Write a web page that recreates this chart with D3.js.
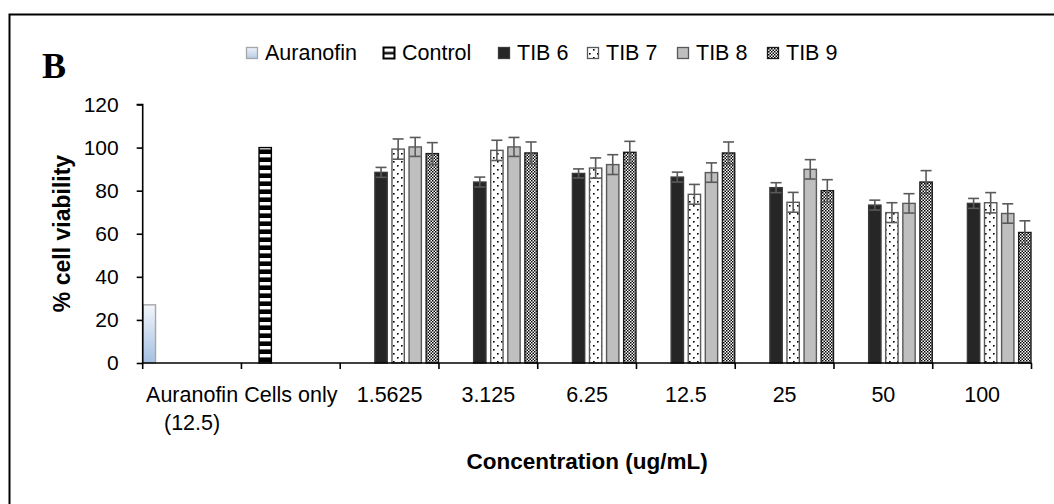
<!DOCTYPE html>
<html>
<head>
<meta charset="utf-8">
<script src="https://cdn.jsdelivr.net/npm/d3@7"></script>
<style>
  html, body { margin: 0; padding: 0; background: #fff; }
  svg { display: block; }
</style>
</head>
<body>
<svg id="chart" width="1054" height="504"></svg>
<script>
// ---- data ----
const categories = ["Auranofin (12.5)", "Cells only", "1.5625", "3.125", "6.25", "12.5", "25", "50", "100"];
const seriesNames = ["Auranofin", "Control", "TIB 6", "TIB 7", "TIB 8", "TIB 9"];
const auranofinValues = [27, null, null, null, null, null, null, null, null];
const controlValues   = [null, 100, null, null, null, null, null, null, null];
const tib6Values = [null, null, 88.5, 84.0, 88.0, 86.3, 81.4, 73.3, 74.1];
const tib7Values = [null, null, 99.3, 98.7, 90.5, 78.3, 74.6, 69.8, 74.4];
const tib8Values = [null, null, 100.3, 100.3, 92.1, 88.4, 89.9, 74.1, 69.4];
const tib9Values = [null, null, 97.2, 97.5, 97.8, 97.5, 80.0, 84.0, 60.6];
const tib6Errors = [null, null, 2.3, 2.3, 2.1, 2.3, 2.3, 2.3, 2.3];
const tib7Errors = [null, null, 4.7, 4.7, 4.7, 4.6, 4.6, 4.6, 4.7];
const tib8Errors = [null, null, 4.4, 4.4, 4.6, 4.5, 4.5, 4.5, 4.5];
const tib9Errors = [null, null, 5.1, 5.1, 5.1, 5.1, 5.1, 5.3, 5.4];
const yTicks = [0, 20, 40, 60, 80, 100, 120];
const yTitle = "% cell viability";
const xTitle = "Concentration (ug/mL)";
const panelLabel = "B";

const seriesValues = [auranofinValues, controlValues, tib6Values, tib7Values, tib8Values, tib9Values];
const seriesErrors = [null, null, tib6Errors, tib7Errors, tib8Errors, tib9Errors];

// ---- styles ----
const SANS = "'Liberation Sans', Arial, sans-serif";
const SERIF = "'Liberation Serif', 'Times New Roman', serif";
const fills = ["url(#gradAur)", "url(#patCtrl)", "#262626", "url(#patDots)", "#bfbfbf", "url(#patCheck)"];
const strokes = ["#a6a6a6", "#000", "#3a3a3a", "#595959", "#595959", "#1a1a1a"];

const svg = d3.select("#chart");
const defs = svg.append("defs");

// gradient for Auranofin
const g = defs.append("linearGradient").attr("id", "gradAur").attr("x1", 0).attr("y1", 0).attr("x2", 0).attr("y2", 1);
g.append("stop").attr("offset", "0%").attr("stop-color", "#f2f6fb");
g.append("stop").attr("offset", "100%").attr("stop-color", "#a4bfe2");
const g2 = defs.append("linearGradient").attr("id", "gradAurL").attr("x1", 0).attr("y1", 0).attr("x2", 0).attr("y2", 1);
g2.append("stop").attr("offset", "0%").attr("stop-color", "#eef3fa");
g2.append("stop").attr("offset", "100%").attr("stop-color", "#b5cae6");

// horizontal stripes (control)
const pc = defs.append("pattern").attr("id", "patCtrl").attr("patternUnits", "userSpaceOnUse")
  .attr("width", 8).attr("height", 8);
pc.append("rect").attr("width", 8).attr("height", 8).attr("fill", "#000");
pc.append("rect").attr("x", 0).attr("y", 2).attr("width", 8).attr("height", 3.4).attr("fill", "#fff");
// legend version of the stripes (one band across the swatch)
const pcl = defs.append("pattern").attr("id", "patCtrlLeg").attr("patternUnits", "objectBoundingBox")
  .attr("patternContentUnits", "objectBoundingBox").attr("width", 1).attr("height", 1);
pcl.append("rect").attr("width", 1).attr("height", 1).attr("fill", "#fff");
pcl.append("rect").attr("x", 0).attr("y", 0.4).attr("width", 1).attr("height", 0.22).attr("fill", "#000");

// dots (TIB 7)
const pd = defs.append("pattern").attr("id", "patDots").attr("patternUnits", "userSpaceOnUse")
  .attr("width", 8).attr("height", 8);
pd.append("rect").attr("width", 8).attr("height", 8).attr("fill", "#fff");
pd.append("rect").attr("x", 1).attr("y", 1).attr("width", 1.6).attr("height", 1.6).attr("fill", "#000");
pd.append("rect").attr("x", 5).attr("y", 5).attr("width", 1.6).attr("height", 1.6).attr("fill", "#000");

// checkerboard (TIB 9)
const pk = defs.append("pattern").attr("id", "patCheck").attr("patternUnits", "userSpaceOnUse")
  .attr("width", 3).attr("height", 3);
pk.append("rect").attr("width", 3).attr("height", 3).attr("fill", "#fff");
pk.append("rect").attr("x", 0).attr("y", 0).attr("width", 1.5).attr("height", 1.5).attr("fill", "#000");
pk.append("rect").attr("x", 1.5).attr("y", 1.5).attr("width", 1.5).attr("height", 1.5).attr("fill", "#000");

// ---- frame ----
svg.append("path").attr("d", "M9.5,520 L9.5,14.5 L1070,14.5")
  .attr("fill", "none").attr("stroke", "#000").attr("stroke-width", 2);

// ---- scales ----
const x0 = d3.scaleBand().domain(categories).range([142.7, 1031.5]).paddingInner(0).paddingOuter(0);
const x1 = d3.scaleBand().domain(seriesNames).range([0, x0.bandwidth()]).paddingInner(0.22).paddingOuter(0);
const y = d3.scaleLinear().domain([0, 120]).range([363, 104.5]);

// ---- bars ----
const barG = svg.append("g");
seriesNames.forEach((s, si) => {
  const vals = seriesValues[si];
  categories.forEach((c, ci) => {
    const v = vals[ci];
    if (v == null) return;
    barG.append("rect")
      .attr("x", x0(c) + x1(s) + 0.5)
      .attr("y", y(v))
      .attr("width", x1.bandwidth() - 1)
      .attr("height", y(0) - y(v))
      .attr("fill", fills[si])
      .attr("stroke", strokes[si])
      .attr("stroke-width", 1.4);
  });
});

// ---- error bars ----
const errG = svg.append("g").attr("stroke", "#5a5a5a").attr("stroke-width", 1.6).attr("fill", "none");
seriesNames.forEach((s, si) => {
  const errs = seriesErrors[si];
  if (!errs) return;
  categories.forEach((c, ci) => {
    const v = seriesValues[si][ci], e = errs[ci];
    if (v == null || e == null) return;
    const cx = x0(c) + x1(s) + x1.bandwidth() / 2;
    const yt = y(v + e), yb = y(v - e);
    errG.append("line").attr("x1", cx).attr("x2", cx).attr("y1", yt).attr("y2", yb);
    errG.append("line").attr("x1", cx - 5.5).attr("x2", cx + 5.5).attr("y1", yt).attr("y2", yt);
    errG.append("line").attr("x1", cx - 5.5).attr("x2", cx + 5.5).attr("y1", yb).attr("y2", yb);
  });
});

// ---- y axis ----
const yAxis = d3.axisLeft(y).tickValues(yTicks).tickSize(6).tickPadding(18).tickFormat(d3.format("d"));
const yg = svg.append("g").attr("transform", "translate(142.7,0)").call(yAxis);
yg.select(".domain").attr("stroke", "#000").attr("stroke-width", 1.6).attr("d", `M-6,${y(120)}H0V${y(0)}`);
yg.selectAll(".tick line").attr("stroke", "#000").attr("stroke-width", 1.6);
yg.selectAll(".tick text").style("font-size", "21px").style("font-family", SANS).attr("fill", "#000");

// ---- x axis ----
const xAxisG = svg.append("g").attr("transform", `translate(0,${y(0)})`);
xAxisG.append("line").attr("x1", x0.range()[0]).attr("x2", x0.range()[1])
  .attr("y1", 0).attr("y2", 0).attr("stroke", "#000").attr("stroke-width", 1.6);
const boundaries = categories.map(c => x0(c)).concat([x0.range()[1]]);
xAxisG.selectAll("line.tk").data(boundaries).enter().append("line").attr("class", "tk")
  .attr("x1", d => d).attr("x2", d => d).attr("y1", 0).attr("y2", 6)
  .attr("stroke", "#000").attr("stroke-width", 1.6);
categories.forEach(c => {
  const m = c.match(/^(.*?)\s(\(.*\))$/);
  const lines = m ? [m[1], m[2]] : [c];
  const cx = x0(c) + x0.bandwidth() / 2;
  const t = xAxisG.append("text").attr("x", cx).attr("y", 39)
    .attr("text-anchor", "middle").style("font-size", "21.5px").style("font-family", SANS).attr("fill", "#000");
  lines.forEach((l, i) => {
    t.append("tspan").attr("x", cx).attr("dy", i === 0 ? 0 : 28).text(l);
  });
});

// ---- titles ----
svg.append("text").attr("x", (x0.range()[0] + x0.range()[1]) / 2).attr("y", 469).attr("text-anchor", "middle")
  .style("font-size", "22.5px").style("font-family", SANS).attr("font-weight", "bold").attr("fill", "#000").text(xTitle);
svg.append("text").attr("transform", "translate(70,233.5) rotate(-90)").attr("text-anchor", "middle")
  .style("font-size", "23px").style("font-family", SANS).attr("font-weight", "bold").attr("fill", "#000").text(yTitle);
svg.append("text").attr("x", 42).attr("y", 78).style("font-family", SERIF)
  .style("font-size", "36px").attr("font-weight", "bold").attr("fill", "#000").text(panelLabel);

// ---- legend ----
const legendX = [246, 383, 498, 587, 677, 767];
const legendFills = ["url(#gradAurL)", "url(#patCtrlLeg)", "#262626", "url(#patDots)", "#bfbfbf", "url(#patCheck)"];
const legG = svg.append("g");
seriesNames.forEach((s, i) => {
  const lx = legendX[i];
  legG.append("rect").attr("x", lx + 0.5).attr("y", 47.5).attr("width", 11).attr("height", 11)
    .attr("fill", legendFills[i]).attr("stroke", i === 1 ? "#000" : strokes[i]).attr("stroke-width", i === 1 ? 2 : 1.3);
  legG.append("text").attr("x", lx + 19).attr("y", 60).style("font-size", "21.5px").style("font-family", SANS)
    .attr("fill", "#000").text(s);
});
</script>
</body>
</html>
